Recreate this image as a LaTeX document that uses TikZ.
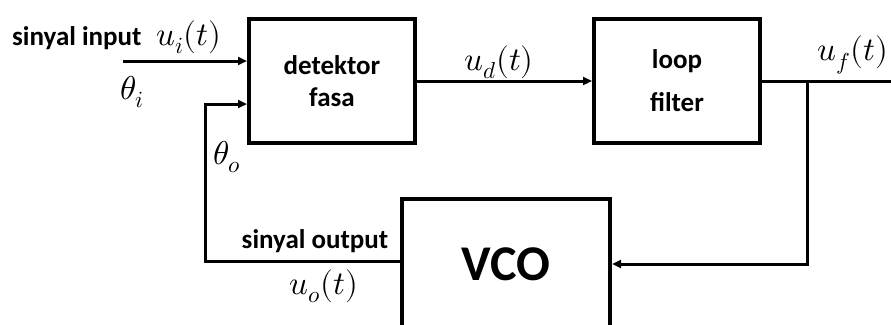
\documentclass[tikz,border=0pt]{standalone}
\usepackage{fontspec}
\usepackage{unicode-math}
\setmainfont{Carlito}
\setmathfont{Latin Modern Math}
\usetikzlibrary{arrows.meta,positioning}
\tikzset{
  font=\bfseries\fontsize{27}{32}\selectfont,
  >={Triangle[length=9pt,width=8pt]},
  block/.style={
    draw, line width=4pt, minimum width=166pt, minimum height=124pt,
    align=center, inner sep=0pt
  },
  flow/.style={->, line width=3pt},
  sig/.style={font=\fontsize{33}{36}\selectfont, inner sep=1pt},
  lbl/.style={font=\bfseries\fontsize{27}{30}\selectfont, inner sep=1pt}
}

\begin{document}
\begin{tikzpicture}[x=1pt,y=-1pt]
  \useasboundingbox (0,0) rectangle (891,324);
  \clip (0,0) rectangle (891,324);

  % ---- Blocks ----
  \node[block] (det) at (332,81) {detektor\\fasa};
  \node[block] (filt) at (677,81) {loop\\[11pt]filter};
  \node[block, minimum width=208pt, minimum height=130pt,
        font=\bfseries\fontsize{50}{56}\selectfont] (vco) at (506,264) {VCO};

  % ---- Points ----
  \coordinate (src) at (123,61);
  \coordinate (fb)  at (205,261);
  \coordinate (br)  at (807,81);
  \coordinate (out) at (905,81);

  % ---- Edges ----
  \draw[flow] (src) -- (src -| det.west);
  \draw[flow] (det) -- (filt);
  \draw[flow] (filt) -- (out);
  \draw[flow] (br) |- (vco.east);
  \draw[flow] (vco.west |- fb) -- (fb) |- ([yshift=-23pt]det.west);

  % ---- Labels ----
  \node[lbl, anchor=west] (inlbl) at (11,38) {sinyal input};
  \node[sig] (ui) at (189,37) {$u_i(t)$};
  \node[sig] (thi) at (132,92) {$\theta_i$};
  \node[sig] (tho) at (227,157) {$\theta_o$};
  \node[lbl] (outlbl) at (315,241) {sinyal output};
  \node[sig] (uo) at (324,286) {$u_o(t)$};
  \node[sig] (ud) at (499,62) {$u_d(t)$};
  \node[sig] (uf) at (853,55) {$u_f(t)$};
\end{tikzpicture}
\end{document}
